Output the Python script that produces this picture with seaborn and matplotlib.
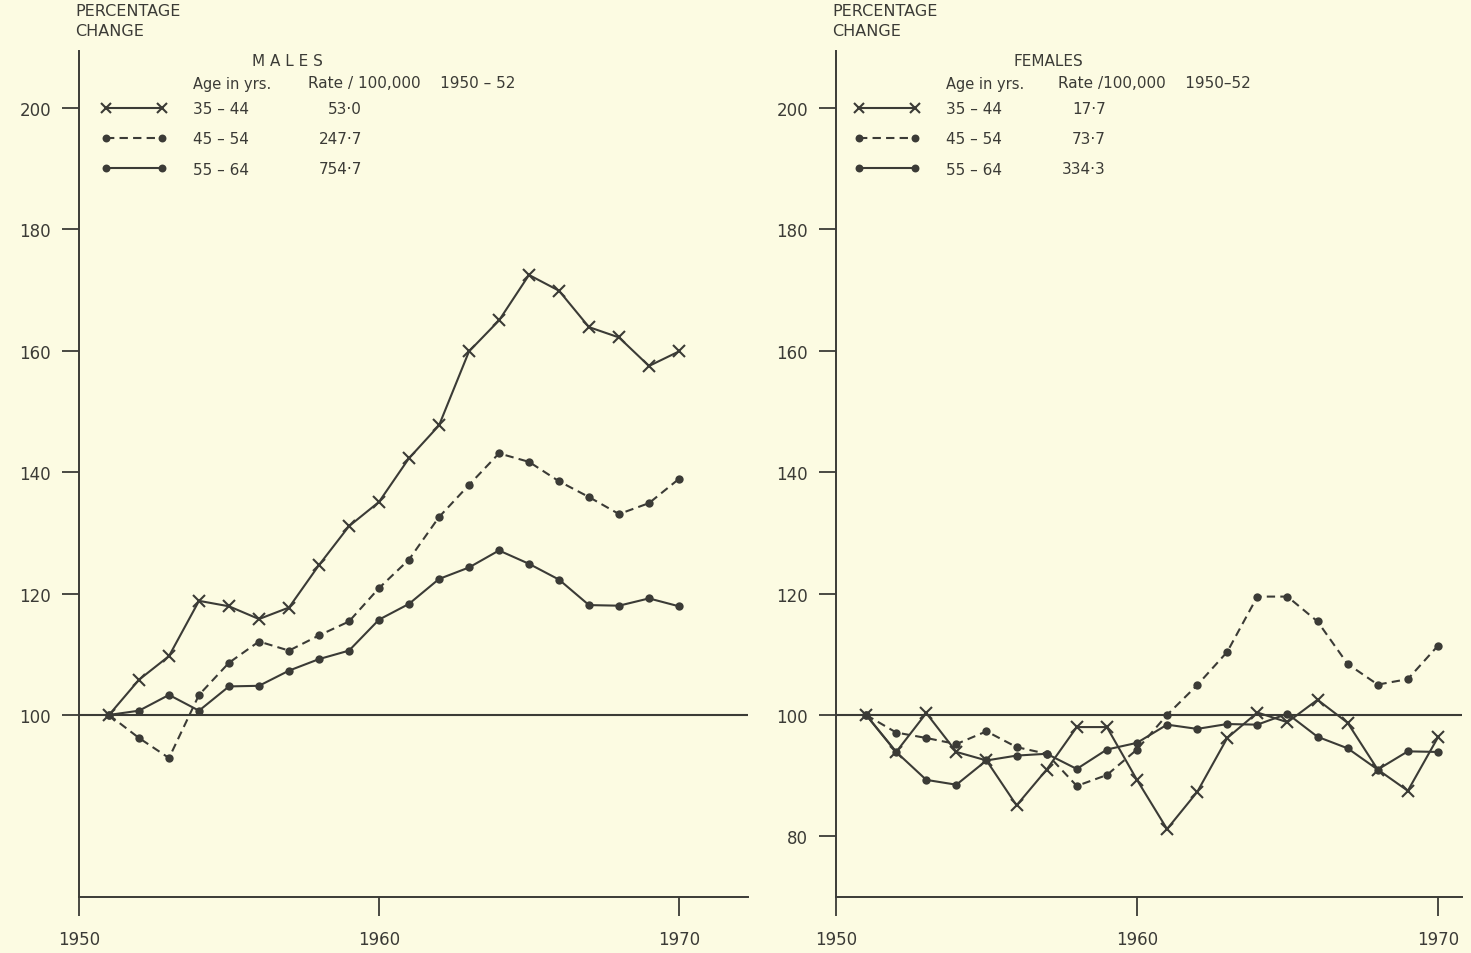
import matplotlib
matplotlib.use('Agg')
import matplotlib.pyplot as plt
import seaborn as sns

years = list(range(1951, 1971))

# males, index 1950-52 = 100
male_35_44 = [100, 105.8, 109.7, 118.8, 117.9, 115.8, 117.7, 124.7, 131.1, 135.1,
              142.3, 147.7, 159.9, 165.0, 172.5, 169.9, 163.9, 162.2, 157.5, 159.9]
male_45_54 = [100, 96.2, 92.9, 103.3, 108.6, 112.1, 110.6, 113.1, 115.4, 120.9,
              125.6, 132.6, 137.9, 143.1, 141.7, 138.5, 135.9, 133.1, 134.9, 138.9]
male_55_64 = [100, 100.7, 103.3, 100.7, 104.7, 104.8, 107.3, 109.2, 110.6, 115.7,
              118.3, 122.4, 124.3, 127.1, 124.9, 122.3, 118.1, 118.0, 119.2, 117.9]

# females
female_35_44 = [100, 93.9, 100.3, 93.9, 92.5, 85.1, 91.0, 98.0, 98.0, 89.3,
                81.2, 87.3, 96.2, 100.4, 98.8, 102.5, 98.7, 91.0, 87.5, 96.3]
female_45_54 = [100, 97.1, 96.2, 95.2, 97.3, 94.7, 93.6, 88.3, 90.1, 94.3,
                100.0, 104.9, 110.4, 119.5, 119.5, 115.4, 108.4, 105.0, 105.9, 111.4]
female_55_64 = [100, 93.9, 89.3, 88.5, 92.5, 93.3, 93.6, 91.1, 94.3, 95.4,
                98.4, 97.7, 98.5, 98.4, 100.2, 96.4, 94.5, 91.0, 94.0, 93.9]

age_groups = ['35 – 44', '45 – 54', '55 – 64']
male_rates = ['53·0', '247·7', '754·7']
female_rates = ['17·7', '73·7', '334·3']

BG = '#fcfbe2'
INK = '#3b3b36'

sns.set_style('ticks')
plt.rcParams['font.family'] = ['DejaVu Sans']
plt.rcParams['text.color'] = INK
plt.rcParams['axes.edgecolor'] = INK
plt.rcParams['xtick.color'] = INK
plt.rcParams['ytick.color'] = INK

W, H = 1471, 954
fig = plt.figure(figsize=(W / 100, H / 100), dpi=100, facecolor=BG)


def fx(px):
    return px / W


def fy(py):
    return 1 - py / H


styles = [
    dict(linestyle='-', marker='x', markersize=8, markeredgewidth=1.5),
    dict(linestyle=(0, (4, 2.5)), marker='o', markersize=6, markeredgewidth=0),
    dict(linestyle='-', marker='o', markersize=6, markeredgewidth=0),
]


def panel(left_px, right_px, xmax, series, title, rates, yticks, leg_x, title_x,
          hdr_x, hdr, rate_x):
    ax = fig.add_axes([fx(left_px), fy(898), fx(right_px - left_px), (898 - 52) / H])
    ax.set_facecolor(BG)
    for vals, lab, st in zip(series, age_groups, styles):
        sns.lineplot(x=years, y=vals, ax=ax, color=INK, linewidth=1.5,
                     markeredgecolor=INK, label=lab, **st)
    ax.axhline(100, color=INK, linewidth=1.5, zorder=1)
    ax.set_xlim(1950, xmax)
    ax.set_ylim(70, 209.4)
    ax.set_xticks([1950, 1960, 1970])
    ax.set_yticks(yticks)
    ax.tick_params(axis='x', direction='out', length=14, width=1.3, pad=10, labelsize=12)
    ax.tick_params(axis='y', direction='out', length=12, width=1.3, pad=8, labelsize=12)
    sns.despine(ax=ax)
    for s in ['left', 'bottom']:
        ax.spines[s].set_linewidth(1.4)
    ax.set_xlabel('')
    ax.set_ylabel('')

    ax.legend(loc='upper left', bbox_to_anchor=(fx(leg_x), fy(102)),
              bbox_transform=fig.transFigure, frameon=False, numpoints=2,
              handlelength=4.3, handletextpad=1.7, labelspacing=1.0,
              markerscale=0.95, borderpad=0, borderaxespad=0, fontsize=11)

    fig.text(fx(left_px - 4), fy(4), 'PERCENTAGE\nCHANGE', fontsize=11.5, va='top',
             ha='left', linespacing=1.45)
    fig.text(fx(title_x), fy(62), title, fontsize=11, ha='center', va='center')
    fig.text(fx(leg_x + 92), fy(84), 'Age in yrs.', fontsize=10.5, ha='left', va='center')
    fig.text(fx(hdr_x), fy(84), hdr, fontsize=11, ha='left', va='center')
    for i, r in enumerate(rates):
        fig.text(fx(rate_x), fy(110 + 30 * i), r, fontsize=11, ha='right', va='center')
    return ax


panel(79, 748, 1972.3, [male_35_44, male_45_54, male_55_64], 'M A L E S', male_rates,
      [100, 120, 140, 160, 180, 200], leg_x=101, title_x=287, hdr_x=308,
      hdr='Rate / 100,000    1950 – 52', rate_x=362)
panel(836, 1462, 1970.8, [female_35_44, female_45_54, female_55_64], 'FEMALES', female_rates,
      [80, 100, 120, 140, 160, 180, 200], leg_x=854, title_x=1048, hdr_x=1058,
      hdr='Rate /100,000    1950–52', rate_x=1106)

fig.savefig('out.png', dpi=100, facecolor=BG)
plt.close()
